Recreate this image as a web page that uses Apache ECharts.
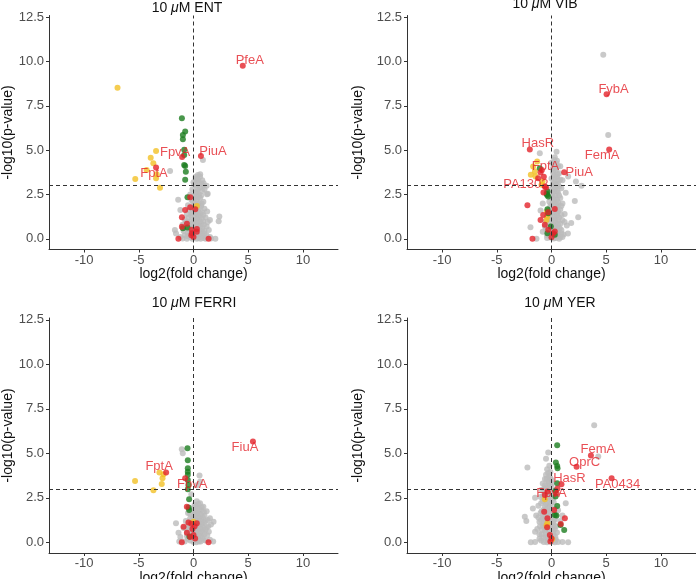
<!DOCTYPE html>
<html><head><meta charset="utf-8">
<script src="https://cdn.jsdelivr.net/npm/echarts@6/dist/echarts.min.js"></script>
<style>html,body{margin:0;padding:0;background:#fff}#c{width:696px;height:579px}</style>
</head><body><div id="c"></div>
<script>
// ---------- DATA ----------
const xTicks = [-10, -5, 0, 5, 10];
const yTicks = [0, 2.5, 5, 7.5, 10, 12.5];
const panelNames = ['ENT', 'VIB', 'FERRI', 'YER'];
const foldThreshold = 0;
const pThreshold = 3;

// ENT
const entGenes = [['PfeA', 4.5, 9.77], ['PiuA', 0.68, 4.68], ['FpvA', -1.04, 4.62], ['FptA', -3.42, 4.02]];
const entRed = [[-0.3,2.35],[-0.76,1.63],[0.16,1.67],[-0.3,1.79],[-1.06,1.22],[-0.6,0.85],[-1.06,0.69],[-0.15,0.51],[0.31,0.55],[-0.15,0.32],[0,0.1],[-1.38,0],[1.38,0],[0.3,0.4],[-0.2,0.2]];
const entYellow = [[-6.94,8.53],[-3.42,4.96],[-3.91,4.57],[-3.67,4.26],[-4.28,3.89],[-5.32,3.38],[-3.36,3.65],[-3.42,3.42],[-3.06,2.89],[0.31,1.86]];
const entGreen = [[-1.06,6.8],[-0.76,6.05],[-0.97,5.86],[-0.97,5.62],[-0.85,5.02],[-0.85,4.73],[-0.85,4.17],[-0.76,4.11],[-0.7,3.79],[-0.76,3.33],[-0.55,2.35],[-0.97,0.6],[-0.55,0.64]];
const entGray = [[0.4,3.6],[0.6,3.5],[0.2,3.4],[0.8,3.3],[0.5,3.2],[0.1,3.1],[0.9,3.0],[0.3,3.0],[1.2,3.0],[0.6,2.9],[-0.1,2.8],[0.4,2.8],[0.8,2.7],[0.2,2.6],[1.3,2.55],[0.5,2.5],[-0.3,2.5],[0.0,2.4],
[0.6,2.3],[0.3,2.2],[-0.2,2.2],[0.9,2.1],[0.1,2.0],[0.5,2.0],[-0.5,1.9],[0.7,1.85],[0.2,1.8],[-0.1,1.7],[1.0,1.7],[0.4,1.6],[-0.4,1.6],[0.8,1.5],[-1.2,1.63],[0.0,1.5],
[0.3,1.4],[-0.6,1.4],[0.6,1.3],[-0.2,1.3],[1.1,1.2],[0.1,1.2],[-0.8,1.1],[0.5,1.1],[0.9,1.0],[-0.3,1.0],[0.2,0.95],[1.5,1.07],[-0.5,0.9],[0.7,0.85],[0.0,0.8],[-1.0,0.8],[0.4,0.75],[1.2,0.7],[-0.3,0.7],[0.8,0.6],[-0.7,0.6],[0.1,0.6],[-1.7,0.5],[0.5,0.5],[-0.2,0.45],[1.0,0.45],
[0.3,0.35],[-0.5,0.35],[0.7,0.3],[-0.1,0.25],[0.4,0.2],[1.2,0.2],[-0.8,0.2],[0.1,0.15],[0.6,0.1],[-0.3,0.1],[0.9,0.05],[2.0,0],[-1.0,0.02],[0.3,0.0],[1.6,0.02],[-0.6,0.0],
[-2.14,3.83],[0.86,4.45],[1.23,2.52],[2.36,1.26],[0.3,3.3],[0.92,3.14],[0.61,3.65],[-1.4,2.2],[2.3,1.0],[-1.6,0.3],
[0.2,3.5],[0.7,3.1],[0.4,3.35],[0.0,3.2],[1.0,2.8],[0.3,2.65],[0.7,2.45],[0.15,2.3],[0.45,2.35],[-0.05,2.1],[0.75,2.0],[0.35,1.9],[0.55,1.75],[0.05,1.85],[1.25,1.55],[0.25,1.5],[0.6,1.45],[-0.15,1.45],[0.9,1.35],[0.4,1.25],[-0.45,1.2],[0.75,1.15],[0.25,1.1],[0.05,1.05],[1.3,0.95],[0.55,0.95],[-0.7,0.95],[0.35,0.85],[-0.15,0.85],[0.95,0.8],[0.6,0.7],[0.2,0.55],[-0.5,0.55],[1.4,0.5],[0.75,0.45],[-0.9,0.45],[0.45,0.4],[0.05,0.4],[-0.3,0.3],[1.0,0.3],[0.55,0.25],[0.2,0.3],[-0.55,0.15],[0.8,0.15],[1.5,0.1],[-1.2,0.1],[0.45,0.05],[-0.1,0.0],[1.1,0.0],[0.65,0.0]];

// VIB
const vibGenes = [['FybA', 5.03, 8.16], ['FemA', 5.27, 5.04], ['HasR', -1.98, 5.04], ['PiuA', 1.16, 3.76], ['FptA', -1.0, 3.74], ['PA1302', -0.61, 2.95]];
const vibRed = [[-1.22,3.42],[-0.88,3.89],[-0.7,3.5],[-0.73,2.61],[-2.2,1.9],[0.3,1.69],[-0.3,1.5],[-1.0,1.07],[-0.61,0.79],[-0.3,0.51],[0.15,0.32],[0,0.09],[-1.74,0],[-0.76,1.35],[0.3,0.41],[-0.5,2.9]];
const vibYellow = [[-1.31,4.36],[-1.68,4.08],[-1.52,3.8],[-1.89,3.61],[-1.46,3.52],[-0.82,3.23],[-0.91,3.05],[-0.46,1.07],[-0.42,1.54],[-0.4,1.25]];
const vibGreen = [[-1.07,3.98],[-0.37,2.67],[-0.4,2.48],[-0.3,2.39],[-0.37,1.67],[-0.3,1.45],[-0.37,0.32],[0.3,0.23],[-0.06,0.7],[-0.45,2.55]];
const vibGray = [[4.73,10.38],[5.18,5.86],[-1.07,4.83],[0.46,4.92],[1.52,3.52],[2.23,3.23],[2.74,3.0],[2.13,2.14],[2.44,1.22],[-1.92,0.66],[-1.37,0.0],[0.8,4.1],[1.0,3.3],[1.3,2.6],[-0.8,2.0],
[0.3,4.6],[0.5,4.4],[0.2,4.2],[0.6,4.1],[0.1,3.95],[0.4,3.85],[0.7,3.7],[0.2,3.6],[0.5,3.5],[0.0,3.4],[0.8,3.35],[0.3,3.25],[0.6,3.1],[0.1,3.0],[0.4,2.9],[0.9,2.85],[-0.1,2.75],[0.2,2.65],[0.6,2.6],[0.35,2.45],[0.0,2.35],[0.8,2.3],[0.5,2.2],[-0.2,2.1],[0.2,2.05],[1.0,2.0],[0.6,1.9],[-0.1,1.85],[0.3,1.75],[0.8,1.65],[-0.3,1.6],[0.1,1.5],[0.5,1.45],[1.2,1.4],[-0.4,1.3],[0.3,1.25],[0.7,1.2],[0.0,1.1],[1.0,1.05],[-0.5,1.0],[0.4,0.95],[-0.2,0.9],[0.8,0.85],[0.2,0.8],[1.4,0.75],[-0.6,0.7],[0.5,0.65],[0.0,0.6],[-0.3,0.5],[0.9,0.5],[0.3,0.45],[-0.8,0.4],[0.6,0.35],[0.1,0.3],[1.1,0.25],[-0.4,0.2],[0.4,0.15],[0.8,0.1],[-0.1,0.08],[0.2,0.02],[1.5,0.3],[1.8,0.9],[-1.0,1.6],[0.0,4.3],[0.4,3.1],
[0.25,4.45],[0.45,4.25],[0.35,4.0],[0.15,3.75],[0.55,3.65],[0.3,3.45],[0.65,3.3],[0.15,3.15],[0.45,3.0],[0.7,2.95],[0.25,2.8],[0.5,2.7],[0.05,2.55],[0.7,2.45],[0.3,2.3],[0.15,2.2],[0.6,2.05],[0.35,1.95],[0.0,1.95],[0.9,1.85],[0.5,1.75],[0.15,1.65],[0.6,1.55],[0.3,1.5],[-0.1,1.4],[0.9,1.35],[0.5,1.3],[0.15,1.2],[-0.25,1.15],[0.6,1.05],[0.25,1.0],[1.2,0.95],[0.6,0.8],[-0.05,0.75],[0.35,0.7],[0.75,0.6],[0.2,0.55],[-0.5,0.55],[0.55,0.45],[0.05,0.4],[0.35,0.3],[0.9,0.3],[-0.2,0.3],[0.6,0.2],[0.15,0.15],[1.0,0.1],[0.4,0.05],[-0.4,0.05],[0.7,0.0]];

// FERRI
const ferriGenes = [['FiuA', 5.43, 5.66], ['FptA', -2.5, 3.92], ['FpvA', -0.76, 3.6]];
const ferriRed = [[-0.61,2.0],[-0.46,1.12],[-0.2,1.05],[-0.91,0.88],[0.3,1.07],[0,0.41],[0.15,0.22],[-1.07,0],[1.37,0],[-0.6,0.54],[-0.1,0.75],[0.1,0.9],[-0.3,0.3]];
const ferriYellow = [[-5.34,3.45],[-3.66,2.92],[-3.11,3.92],[-2.74,3.82],[-2.83,3.6],[-2.9,3.28],[0.0,1.16]];
const ferriGreen = [[-0.55,5.28],[-0.52,4.61],[-0.52,4.16],[-0.52,3.97],[-0.52,3.79],[-0.52,3.5],[-0.46,3.22],[-0.52,2.98],[-0.4,2.42],[-0.4,1.82],[-0.37,0.32],[-0.45,1.95]];
const ferriGray = [[-1.07,5.23],[-0.98,5.0],[0.55,3.75],[1.83,1.16],[-1.37,0.54],[-1.6,1.07],[0.3,3.2],[0.6,3.4],[-0.2,2.7],
[0.3,2.3],[0.6,2.2],[0.1,2.1],[0.9,2.0],[0.4,1.95],[-0.2,1.9],[0.7,1.8],[1.2,1.75],[0.2,1.7],[-0.5,1.65],[0.5,1.6],[1.0,1.5],[0.0,1.5],[0.3,1.4],[1.5,1.35],[-0.3,1.35],[0.7,1.3],[0.1,1.25],[1.1,1.2],[-0.7,1.2],[0.4,1.15],[0.8,1.05],[-0.1,1.05],[1.6,1.0],[0.2,1.0],[-0.5,0.95],[0.6,0.9],[1.2,0.85],[0.0,0.85],[-0.9,0.8],[0.4,0.75],[0.9,0.7],[-0.3,0.7],[0.2,0.65],[1.4,0.6],[-0.6,0.55],[0.6,0.5],[0.0,0.45],[1.0,0.45],[-0.2,0.35],[0.4,0.3],[0.8,0.25],[-0.5,0.2],[0.2,0.15],[1.1,0.1],[-0.8,0.05],[0.5,0.05],[0.0,0.02],[1.5,0.15],[-1.2,0.3],
[0.45,2.15],[0.2,2.0],[0.75,1.95],[0.5,1.85],[0.05,1.8],[0.95,1.7],[0.35,1.65],[-0.3,1.6],[0.65,1.55],[0.15,1.45],[0.85,1.4],[0.45,1.35],[-0.1,1.3],[1.3,1.25],[0.55,1.2],[0.25,1.15],[-0.45,1.1],[0.95,1.1],[0.35,1.05],[0.7,1.0],[1.35,0.9],[0.1,0.95],[0.45,0.9],[-0.25,0.9],[0.85,0.85],[0.25,0.8],[0.6,0.75],[-0.6,0.75],[1.1,0.7],[0.05,0.65],[0.4,0.6],[0.8,0.55],[-0.35,0.55],[0.2,0.5],[1.25,0.4],[0.5,0.4],[-0.1,0.6],[0.65,0.35],[0.15,0.3],[-0.6,0.35],[0.9,0.15],[0.35,0.15],[-0.3,0.1],[0.65,0.05],[-1.3,0.05],[1.8,0.05],[0.25,0.0]];

// YER
const yerGenes = [['FemA', 3.6, 4.87], ['OprC', 2.29, 4.25], ['PA0434', 5.49, 3.6], ['HasR', 0.91, 3.26], ['FpvA', -0.37, 2.85]];
const yerRed = [[0.55,3.03],[-0.61,2.66],[0.46,2.75],[-0.67,1.72],[0.24,1.82],[-0.37,1.35],[1.22,1.35],[0.85,1.03],[-0.4,0.84],[-0.15,0.41],[0,0.22],[-0.1,0.05]];
const yerYellow = [[-0.61,2.42],[-0.37,1.07],[0.06,0.17],[-0.45,0.95]];
const yerGreen = [[0.52,5.45],[0.4,4.48],[0.52,4.29],[0.55,4.16],[0.52,3.32],[0.37,2.89],[0.37,2.57],[0.52,2.04],[0.3,1.54],[0.45,1.5],[0.82,0.97],[1.16,0.69]];
const yerGray = [[3.9,6.58],[4.27,4.82],[-0.3,5.04],[-2.2,4.2],[-2.44,1.44],[-2.3,1.2],[-1.89,0],[1.52,0],[-0.5,4.7],[-1.5,2.5],[-1.7,1.9],[1.3,2.2],[1.0,1.5],
[-0.2,4.3],[-0.4,4.1],[-0.1,3.95],[-0.5,3.8],[-0.2,3.7],[-0.6,3.55],[0.0,3.5],[-0.3,3.4],[-0.8,3.3],[-0.1,3.2],[-0.5,3.1],[0.1,3.0],[-0.9,2.95],[-0.3,2.85],[-0.6,2.7],[0.0,2.65],[-1.0,2.55],[-0.4,2.5],[-0.1,2.4],[-0.8,2.3],[0.2,2.25],[-0.5,2.15],[-1.2,2.05],[-0.2,2.0],[0.3,1.9],[-0.7,1.85],[-0.3,1.75],[-1.0,1.65],[0.1,1.6],[-0.5,1.5],[0.4,1.45],[-0.8,1.35],[-0.2,1.3],[0.2,1.2],[-1.1,1.15],[-0.5,1.1],[0.0,1.0],[-0.8,0.95],[0.4,0.9],[-0.3,0.85],[-1.3,0.75],[0.1,0.7],[-0.6,0.65],[0.5,0.55],[-0.2,0.5],[-0.9,0.45],[0.2,0.4],[-0.5,0.3],[0.0,0.25],[-1.1,0.2],[0.4,0.15],[-0.3,0.1],[0.1,0.05],[-0.7,0.02],[0.6,0.02],[-1.5,0.02],[1.0,0.02],[0.6,1.8],[0.8,1.2],[-1.4,1.5],
[-0.3,3.9],[-0.1,3.6],[-0.45,3.55],[-0.25,3.3],[-0.6,3.2],[0.05,3.3],[-0.35,3.05],[-0.7,3.0],[-0.15,2.9],[-0.45,2.75],[0.15,2.75],[-0.8,2.6],[-0.25,2.55],[-0.55,2.4],[0.1,2.45],[-0.35,2.25],[-0.95,2.2],[-0.05,2.15],[-0.6,2.0],[-0.35,1.9],[0.05,1.85],[-0.9,1.75],[-0.55,1.7],[-0.15,1.6],[0.25,1.65],[-0.75,1.55],[-0.3,1.45],[-1.2,1.4],[0.0,1.4],[-0.55,1.3],[0.3,1.3],[-0.95,1.25],[-0.15,1.15],[-0.7,1.05],[0.2,1.0],[-0.4,1.0],[-1.05,0.9],[0.05,0.85],[-0.55,0.8],[0.3,0.75],[-0.85,0.7],[-0.25,0.65],[-1.5,0.6],[0.15,0.55],[-0.5,0.5],[-1.1,0.45],[-0.15,0.35],[0.35,0.3],[-0.75,0.25],[-0.3,0.2],[0.1,0.15],[-0.95,0.1],[-0.4,0.0],[0.3,0.0]];

// ---------- STYLE / LAYOUT ----------
const panelData = [
  {genes: entGenes, red: entRed, yellow: entYellow, green: entGreen, gray: entGray},
  {genes: vibGenes, red: vibRed, yellow: vibYellow, green: vibGreen, gray: vibGray},
  {genes: ferriGenes, red: ferriRed, yellow: ferriYellow, green: ferriGreen, gray: ferriGray},
  {genes: yerGenes, red: yerRed, yellow: yerYellow, green: yerGreen, gray: yerGray}
];
const labelOffsets = [
  {PfeA: [7, -5], PiuA: [12, -4], FpvA: [-7, -5], FptA: [-2, 6]},
  {FybA: [7, -5], FemA: [-7, 6], HasR: [8, -6], PiuA: [15, 0], FptA: [5, -6], PA1302: [-19, -2]},
  {FiuA: [-8, 6], FptA: [-7, -6], FpvA: [7, 6]},
  {FemA: [7, -6], OprC: [8, -4], PA0434: [6, 6], HasR: [8, -6], FpvA: [4, 2]}
];
const grids = [
  {left: 49, top: 15.5, width: 289, height: 234},
  {left: 407, top: 15.5, width: 289, height: 234},
  {left: 49, top: 318, width: 289, height: 235},
  {left: 407, top: 318, width: 289, height: 235}
];
const yNameGaps = [34, 42, 34, 42];
const titlePos = [[187, 8], [545, 4], [194, 303], [560, 303]];
const FONT = '"Liberation Sans", Arial, sans-serif';
const C = {red: '#e4232a', yellow: '#f3c126', green: '#1b7d1f', gray: '#bcbcbc', axis: '#333333', tick: '#4d4d4d'};

const xAxes = [], yAxes = [], series = [], graphics = [];
grids.forEach((g, i) => {
  g.outerBoundsMode = 'none';
  g.containLabel = false;
  xAxes.push({
    type: 'value', gridIndex: i, min: -13.2, max: 13.2,
    name: 'log2(fold change)', nameLocation: 'middle', nameGap: 13,
    nameTextStyle: {fontSize: 14, color: '#111', fontFamily: FONT},
    axisLine: {show: true, onZero: false, lineStyle: {color: C.axis, width: 1}},
    axisTick: {show: true, length: 3, customValues: xTicks, lineStyle: {color: C.axis}},
    axisLabel: {customValues: xTicks, fontSize: 13, color: C.tick, fontFamily: FONT, margin: 4},
    splitLine: {show: false}
  });
  yAxes.push({
    type: 'value', gridIndex: i, min: -0.6, max: 12.6,
    name: '-log10(p-value)', nameLocation: 'middle', nameGap: yNameGaps[i],
    nameTextStyle: {fontSize: 14, color: '#111', fontFamily: FONT},
    axisLine: {show: true, onZero: false, lineStyle: {color: C.axis, width: 1}},
    axisTick: {show: true, length: 3, customValues: yTicks, lineStyle: {color: C.axis}},
    axisLabel: {customValues: yTicks, fontSize: 13, color: C.tick, fontFamily: FONT, margin: 5,
      formatter: v => v.toFixed(1)},
    splitLine: {show: false}
  });
  const d = panelData[i];
  const base = {type: 'scatter', xAxisIndex: i, yAxisIndex: i, symbolSize: 6, animation: false, silent: true};
  series.push(Object.assign({}, base, {
    data: d.gray, itemStyle: {color: C.gray},
    markLine: {silent: true, symbol: 'none', label: {show: false},
      lineStyle: {color: C.axis, type: [4, 3], width: 1},
      data: [{xAxis: foldThreshold}, {yAxis: pThreshold}]}
  }));
  series.push(Object.assign({}, base, {data: d.yellow, itemStyle: {color: C.yellow}}));
  series.push(Object.assign({}, base, {data: d.green, itemStyle: {color: C.green}}));
  const redLen = d.red.length;
  const geneItems = d.genes.map(gn => ({
    value: [gn[1], gn[2]],
    label: {show: true, formatter: gn[0], position: 'inside',
      color: C.red, fontSize: 13, fontFamily: FONT}
  }));
  series.push(Object.assign({}, base, {
    data: d.red.concat(geneItems), itemStyle: {color: C.red},
    labelLayout: function (p) {
      const k = p.dataIndex - redLen;
      if (k < 0) return {};
      const off = labelOffsets[i][d.genes[k][0]] || [0, 0];
      return {dx: off[0], dy: off[1], hideOverlap: false};
    }
  }));
  graphics.push({
    type: 'text', x: titlePos[i][0], y: titlePos[i][1], silent: true,
    style: {text: '10 {i|μ}M ' + panelNames[i], fontSize: 14, fontFamily: FONT, fill: '#111',
      align: 'center', verticalAlign: 'middle',
      rich: {i: {fontStyle: 'italic', fontSize: 14, fontFamily: FONT, fill: '#111'}}}
  });
});

const chart = echarts.init(document.getElementById('c'), null, {renderer: 'canvas'});
chart.setOption({
  backgroundColor: '#fff',
  animation: false,
  grid: grids,
  xAxis: xAxes,
  yAxis: yAxes,
  series: series,
  graphic: graphics
});
</script>
</body></html>
